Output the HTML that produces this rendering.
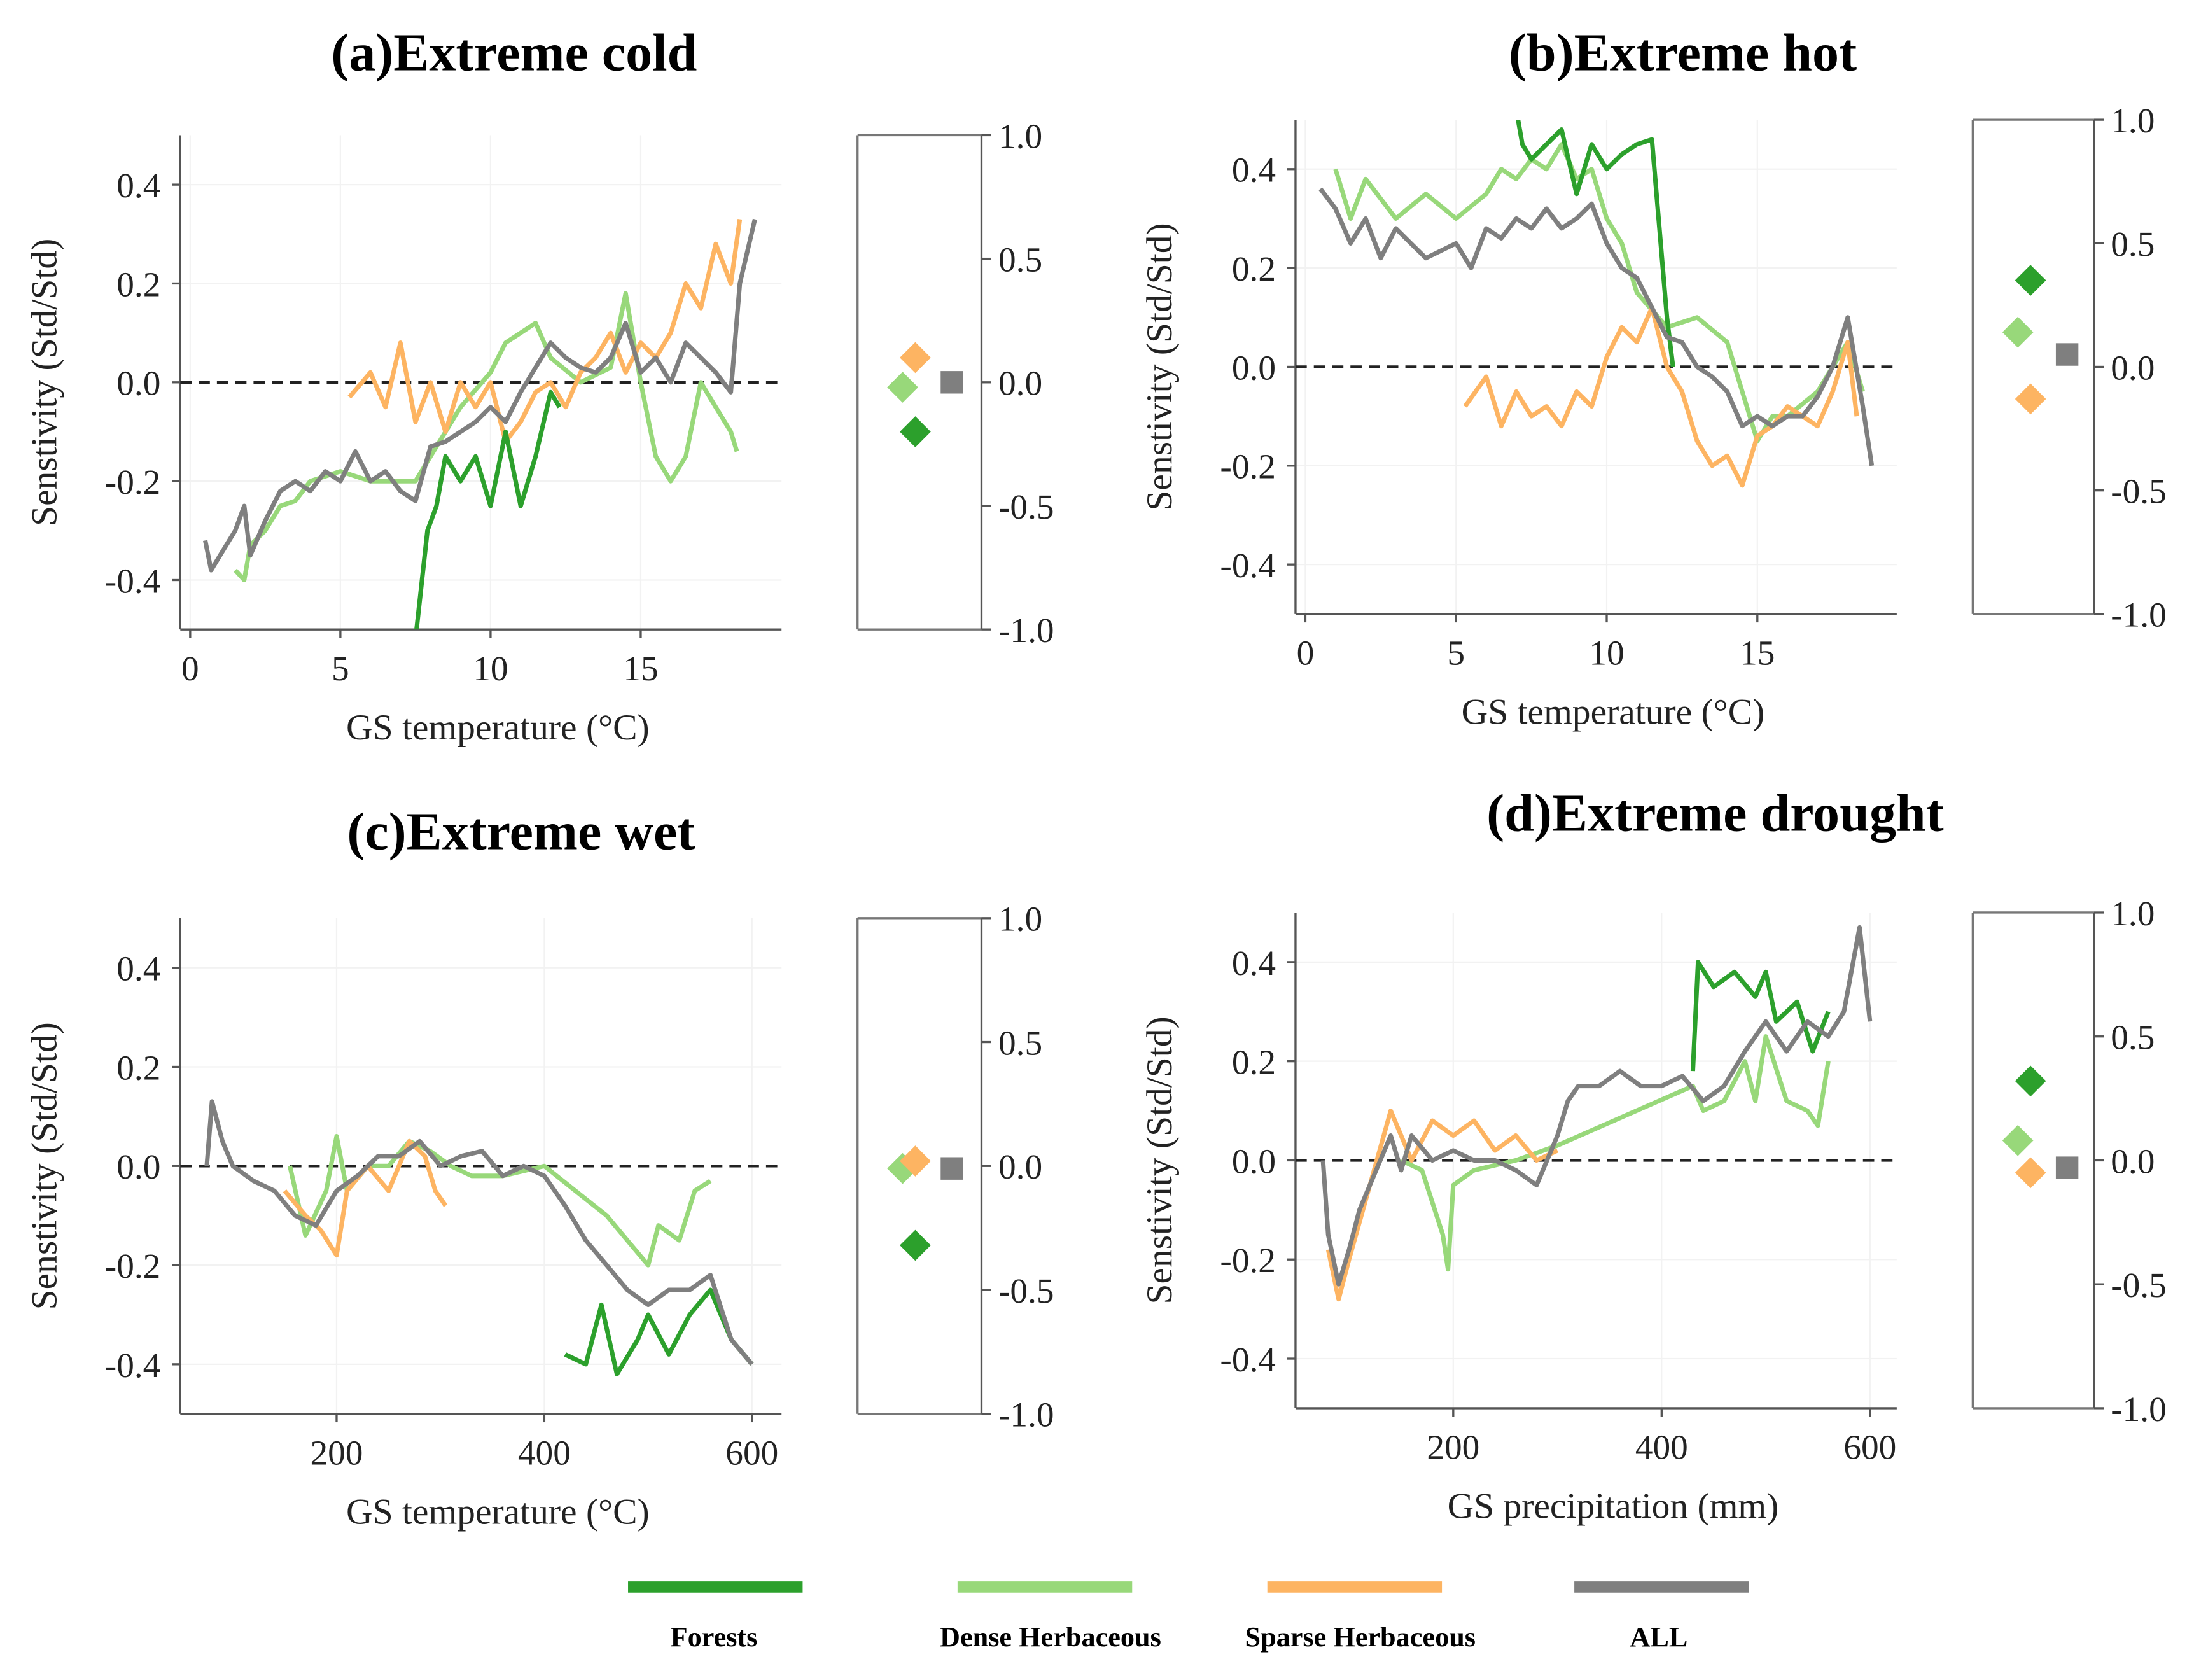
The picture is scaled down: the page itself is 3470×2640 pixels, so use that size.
<!DOCTYPE html>
<html><head><meta charset="utf-8">
<style>
html,body{margin:0;padding:0;background:#fff;}
svg{display:block;}
text{font-family:"Liberation Serif",serif;fill:#222;}
.tick{font-size:25px;}
.title{font-size:38px;font-weight:bold;fill:#000;}
.lab{font-size:26px;}
.leg{font-size:20px;font-weight:bold;fill:#000;}
</style></head>
<body>
<svg id="fig" xmlns="http://www.w3.org/2000/svg" width="3470" height="2640" viewBox="0 0 1568 1193"></svg>
<script>
const NS="http://www.w3.org/2000/svg";
const fig=document.getElementById('fig');
const COL={forest:"#2ca02c",dense:"#98d87a",sparse:"#fdb462",all:"#7f7f7f"};

// ---- Panel (a) data: Extreme cold ----
const aAllX=[0.5,0.7,1,1.5,1.8,2,2.5,3,3.5,4,4.5,5,5.5,6,6.5,7,7.5,8,8.5,9,9.5,10,10.5,11,11.5,12,12.5,13,13.5,14,14.5,15,15.5,16,16.5,17,17.5,18,18.3,18.8];
const aAllY=[-0.32,-0.38,-0.35,-0.3,-0.25,-0.35,-0.28,-0.22,-0.2,-0.22,-0.18,-0.2,-0.14,-0.2,-0.18,-0.22,-0.24,-0.13,-0.12,-0.1,-0.08,-0.05,-0.08,-0.02,0.03,0.08,0.05,0.03,0.02,0.05,0.12,0.02,0.05,0.0,0.08,0.05,0.02,-0.02,0.2,0.33];
const aDenseX=[1.5,1.8,2,2.5,3,3.5,4,5,6,7,7.5,8,9,10,10.5,11,11.5,12,13,14,14.5,15,15.5,16,16.5,17,17.5,18,18.2];
const aDenseY=[-0.38,-0.4,-0.33,-0.3,-0.25,-0.24,-0.2,-0.18,-0.2,-0.2,-0.2,-0.15,-0.05,0.02,0.08,0.1,0.12,0.05,0.0,0.03,0.18,0.0,-0.15,-0.2,-0.15,0.0,-0.05,-0.1,-0.14];
const aSparseX=[5.3,6,6.5,7,7.5,8,8.5,9,9.5,10,10.5,11,11.5,12,12.5,13,13.5,14,14.5,15,15.5,16,16.5,17,17.5,18,18.3];
const aSparseY=[-0.03,0.02,-0.05,0.08,-0.08,0.0,-0.1,0.0,-0.05,0.0,-0.12,-0.08,-0.02,0.0,-0.05,0.02,0.05,0.1,0.02,0.08,0.05,0.1,0.2,0.15,0.28,0.2,0.33];
const aForestX=[7.5,7.9,8.2,8.5,9,9.5,10,10.5,11,11.5,12,12.3];
const aForestY=[-0.52,-0.3,-0.25,-0.15,-0.2,-0.15,-0.25,-0.1,-0.25,-0.15,-0.02,-0.05];
const aMarkers=[["sparse",0.1,0],["dense",-0.02,-1],["forest",-0.2,0],["all",0.0,1]];

// ---- Panel (b) data: Extreme hot ----
const bAllX=[0.5,1,1.5,2,2.5,3,3.5,4,5,5.5,6,6.5,7,7.5,8,8.5,9,9.5,10,10.5,11,11.5,12,12.5,13,13.5,14,14.5,15,15.5,16,16.5,17,17.5,18,18.5,18.8];
const bAllY=[0.36,0.32,0.25,0.3,0.22,0.28,0.25,0.22,0.25,0.2,0.28,0.26,0.3,0.28,0.32,0.28,0.3,0.33,0.25,0.2,0.18,0.12,0.06,0.05,0.0,-0.02,-0.05,-0.12,-0.1,-0.12,-0.1,-0.1,-0.06,0.0,0.1,-0.08,-0.2];
const bDenseX=[1,1.5,2,3,4,5,6,6.5,7,7.5,8,8.5,9,9.5,10,10.5,11,12,13,14,14.5,15,15.5,16,17,18,18.5];
const bDenseY=[0.4,0.3,0.38,0.3,0.35,0.3,0.35,0.4,0.38,0.42,0.4,0.45,0.38,0.4,0.3,0.25,0.15,0.08,0.1,0.05,-0.05,-0.15,-0.1,-0.1,-0.05,0.05,-0.05];
const bSparseX=[5.3,6,6.5,7,7.5,8,8.5,9,9.5,10,10.5,11,11.5,12,12.5,13,13.5,14,14.5,15,15.5,16,16.5,17,17.5,18,18.3];
const bSparseY=[-0.08,-0.02,-0.12,-0.05,-0.1,-0.08,-0.12,-0.05,-0.08,0.02,0.08,0.05,0.12,0.0,-0.05,-0.15,-0.2,-0.18,-0.24,-0.14,-0.12,-0.08,-0.1,-0.12,-0.05,0.05,-0.1];
const bForestX=[7,7.2,7.5,8,8.5,9,9.5,10,10.5,11,11.5,12,12.2];
const bForestY=[0.52,0.45,0.42,0.45,0.48,0.35,0.45,0.4,0.43,0.45,0.46,0.1,0.0];
const bMarkers=[["forest",0.35,0],["dense",0.14,-1],["all",0.05,1],["sparse",-0.13,0]];

// ---- Panel (c) data: Extreme wet ----
const cAllX=[75,80,90,100,120,140,160,180,200,220,240,260,280,300,320,340,360,380,400,420,440,460,480,500,520,540,560,580,600];
const cAllY=[0.0,0.13,0.05,0.0,-0.03,-0.05,-0.1,-0.12,-0.05,-0.02,0.02,0.02,0.05,0.0,0.02,0.03,-0.02,0.0,-0.02,-0.08,-0.15,-0.2,-0.25,-0.28,-0.25,-0.25,-0.22,-0.35,-0.4];
const cDenseX=[155,170,190,200,210,230,250,270,290,310,330,360,400,430,460,480,500,510,530,545,560];
const cDenseY=[0.0,-0.14,-0.05,0.06,-0.05,0.0,0.0,0.05,0.03,0.0,-0.02,-0.02,0.0,-0.05,-0.1,-0.15,-0.2,-0.12,-0.15,-0.05,-0.03];
const cSparseX=[150,170,185,200,210,230,250,270,285,295,305];
const cSparseY=[-0.05,-0.1,-0.13,-0.18,-0.05,0.0,-0.05,0.05,0.02,-0.05,-0.08];
const cForestX=[420,440,455,470,490,500,520,540,560,580,600];
const cForestY=[-0.38,-0.4,-0.28,-0.42,-0.35,-0.3,-0.38,-0.3,-0.25,-0.35,-0.4];
const cMarkers=[["dense",-0.01,-1],["sparse",0.02,0],["all",-0.01,1],["forest",-0.32,0]];

// ---- Panel (d) data: Extreme drought ----
const dAllX=[75,80,90,100,110,120,130,140,150,160,180,200,220,240,260,280,300,310,320,340,360,380,400,420,440,460,480,500,520,540,560,575,590,600];
const dAllY=[0.0,-0.15,-0.25,-0.18,-0.1,-0.05,0.0,0.05,-0.02,0.05,0.0,0.02,0.0,0.0,-0.02,-0.05,0.05,0.12,0.15,0.15,0.18,0.15,0.15,0.17,0.12,0.15,0.22,0.28,0.22,0.28,0.25,0.3,0.47,0.28];
const dDenseX=[150,170,190,195,200,220,260,300,430,440,460,480,490,500,520,540,550,560];
const dDenseY=[0.0,-0.02,-0.15,-0.22,-0.05,-0.02,0.0,0.03,0.15,0.1,0.12,0.2,0.12,0.25,0.12,0.1,0.07,0.2];
const dSparseX=[80,90,100,140,160,180,200,220,240,260,280,300];
const dSparseY=[-0.18,-0.28,-0.2,0.1,0.0,0.08,0.05,0.08,0.02,0.05,0.0,0.02];
const dForestX=[430,435,450,470,490,500,510,530,545,560];
const dForestY=[0.18,0.4,0.35,0.38,0.33,0.38,0.28,0.32,0.22,0.3];
const dMarkers=[["forest",0.32,0],["dense",0.08,-1],["sparse",-0.05,0],["all",-0.03,1]];

function el(tag,attrs,parent,txt){const e=document.createElementNS(NS,tag);for(const k in attrs)e.setAttribute(k,attrs[k]);if(txt!==undefined)e.textContent=txt;(parent||fig).appendChild(e);return e;}

let clipId=0;
function panel(cfg){
  const g=el('g',{});
  
  
  const L=cfg.L,R=cfg.R,T=cfg.T,B=cfg.B;
  const xs=v=>cfg.x0px+(v-cfg.x0)*(cfg.x1px-cfg.x0px)/(cfg.x1-cfg.x0);
  const ys=v=>T+(0.5-v)*(B-T);
  [-0.4,-0.2,0.2,0.4].forEach(v=>el('line',{x1:L,x2:R,y1:ys(v),y2:ys(v),stroke:"#f2f2f2","stroke-width":1},g));
  cfg.ticks.forEach(v=>el('line',{x1:xs(v),x2:xs(v),y1:T,y2:B,stroke:"#f2f2f2","stroke-width":1},g));
  const t=el('text',{x:cfg.tx,y:cfg.ty,class:'title','text-anchor':'middle'},g,cfg.title);
  
  el('line',{x1:L,x2:L,y1:T,y2:B,stroke:"#555","stroke-width":1.5},g);
  el('line',{x1:L,x2:R,y1:B,y2:B,stroke:"#555","stroke-width":1.5},g);
  [0.4,0.2,0.0,-0.2,-0.4].forEach(v=>{
    el('line',{x1:L-6,x2:L,y1:ys(v),y2:ys(v),stroke:"#555","stroke-width":1.5},g);
    el('text',{x:L-14,y:ys(v)+9,class:'tick','text-anchor':'end'},g,v.toFixed(1));
  });
  cfg.ticks.forEach(v=>{
    el('line',{x1:xs(v),x2:xs(v),y1:B,y2:B+6,stroke:"#555","stroke-width":1.5},g);
    el('text',{x:xs(v),y:B+36,class:'tick','text-anchor':'middle'},g,String(v));
  });
  const xl=el('text',{x:(L+R)/2+12,y:B+78,class:'lab','text-anchor':'middle'},g,cfg.xlabel);
  
  const yl=el('text',{x:0,y:0,class:'lab','text-anchor':'middle',transform:`translate(${L-88},${(T+B)/2}) rotate(-90)`},g,'Senstivity (Std/Std)');
  
  el('line',{x1:L,x2:R,y1:ys(0),y2:ys(0),stroke:"#222","stroke-width":2,"stroke-dasharray":"8,5"},g);
  const id='clip'+(clipId++);
  const cp=el('clipPath',{id:id},g);el('rect',{x:L,y:T,width:R-L,height:B-T},cp);
  const sg=el('g',{'clip-path':`url(#${id})`},g);
  cfg.series.forEach(([key,X,Y])=>{
    const d=X.map((x,i)=>(i?'L':'M')+xs(x).toFixed(1)+','+ys(Y[i]).toFixed(1)).join(' ');
    const p=el('path',{d:d,fill:'none',stroke:COL[key],'stroke-width':3.2,'stroke-linejoin':'round'},sg);
    
    
  });
  const bl=cfg.bx0,br=cfg.bx1;
  const ys2=v=>T+(1-v)*(B-T)/2;
  el('line',{x1:bl,x2:br,y1:T,y2:T,stroke:"#777","stroke-width":1.5},g);
  el('line',{x1:bl,x2:br,y1:B,y2:B,stroke:"#777","stroke-width":1.5},g);
  el('line',{x1:bl,x2:bl,y1:T,y2:B,stroke:"#777","stroke-width":1.5},g);
  el('line',{x1:br,x2:br,y1:T,y2:B,stroke:"#555","stroke-width":1.5},g);
  [1.0,0.5,0.0,-0.5,-1.0].forEach(v=>{
    el('line',{x1:br,x2:br+7,y1:ys2(v),y2:ys2(v),stroke:"#555","stroke-width":1.5},g);
    el('text',{x:br+12,y:ys2(v)+9,class:'tick'},g,v.toFixed(1));
  });
  cfg.markers.forEach(([key,v,off])=>{
    const cx=bl+41+off*9, cy=ys2(v);
    let m;
    if(key==='all'){const cx2=bl+67;m=el('rect',{x:cx2-8,y:cy-8,width:16,height:16,fill:COL.all},g);}
    else m=el('path',{d:`M${cx},${cy-11} L${cx+11},${cy} L${cx},${cy+11} L${cx-11},${cy} Z`,fill:COL[key]},g);
    
    
  });
}
panel({name:'panel-a-extreme-cold',title:'(a)Extreme cold',tx:365,ty:50,L:128,R:555,T:96,B:447,x0:0,x1:15,x0px:135,x1px:455,ticks:[0,5,10,15],xlabel:'GS temperature (°C)',bx0:609,bx1:697,
 series:[['dense',aDenseX,aDenseY],['sparse',aSparseX,aSparseY],['forest',aForestX,aForestY],['all',aAllX,aAllY]],markers:aMarkers});
panel({name:'panel-b-extreme-hot',title:'(b)Extreme hot',tx:1195,ty:50,L:920,R:1347,T:85,B:436,x0:0,x1:15,x0px:927,x1px:1248,ticks:[0,5,10,15],xlabel:'GS temperature (°C)',bx0:1401,bx1:1487,
 series:[['dense',bDenseX,bDenseY],['sparse',bSparseX,bSparseY],['forest',bForestX,bForestY],['all',bAllX,bAllY]],markers:bMarkers});
panel({name:'panel-c-extreme-wet',title:'(c)Extreme wet',tx:370,ty:603,L:128,R:555,T:652,B:1004,x0:200,x1:600,x0px:239,x1px:534,ticks:[200,400,600],xlabel:'GS temperature (°C)',bx0:609,bx1:697,
 series:[['dense',cDenseX,cDenseY],['sparse',cSparseX,cSparseY],['forest',cForestX,cForestY],['all',cAllX,cAllY]],markers:cMarkers});
panel({name:'panel-d-extreme-drought',title:'(d)Extreme drought',tx:1218,ty:590,L:920,R:1347,T:648,B:1000,x0:200,x1:600,x0px:1032,x1px:1328,ticks:[200,400,600],xlabel:'GS precipitation (mm)',bx0:1401,bx1:1487,
 series:[['dense',dDenseX,dDenseY],['sparse',dSparseX,dSparseY],['forest',dForestX,dForestY],['all',dAllX,dAllY]],markers:dMarkers});

const legNames=['Forests','Dense Herbaceous','Sparse Herbaceous','ALL'];
const legKeys=['forest','dense','sparse','all'];
const lg=el('g',{});


[[446,507],[680,746],[900,966],[1118,1178]].forEach(([x,tx],i)=>{
  const e=el('g',{},lg);
  
  
  el('line',{x1:x,x2:x+124,y1:1127,y2:1127,stroke:COL[legKeys[i]],'stroke-width':8},e);
  el('text',{x:tx,y:1169,class:'leg','text-anchor':'middle'},e,legNames[i]);
});
</script>
</body></html>
